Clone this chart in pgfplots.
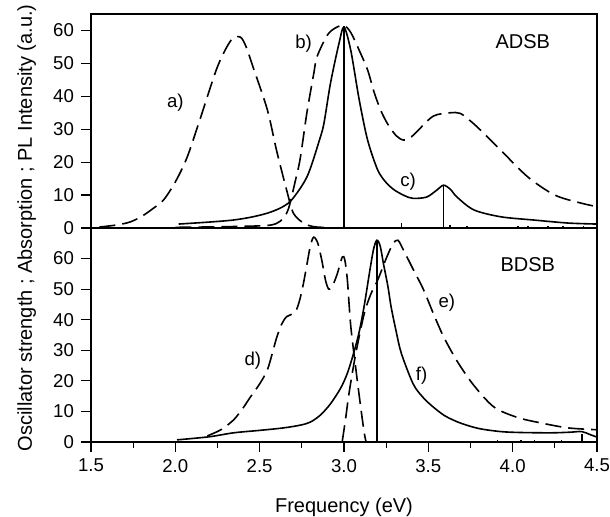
\documentclass[border=0pt]{standalone}
\usepackage{fontspec}
\setmainfont{Liberation Sans}
\usepackage{pgfplots}
\pgfplotsset{compat=1.18}

\pgfplotsset{
  panel/.style={
    scale only axis,
    width=253pt, height=107pt,
    xmin=1.5, xmax=4.5, ymin=0,
    ytick={0,10,...,60},
    ytick pos=left, xtick pos=bottom,
    tick align=outside,
    major tick length=5pt, minor tick length=3pt,
    minor x tick num=1,
    axis line style={line width=0.6pt},
    tick style={line width=0.6pt, black},
    /pgf/number format/assume math mode=true,
    font=\fontsize{10}{12}\selectfont,
    every tick label/.append style={font=\fontsize{9.3}{11}\selectfont},
    clip=true,
  },
  dsh/.style={black, line width=0.8pt, dash pattern=on 8pt off 3.5pt, smooth, tension=0.5},
  sol/.style={black, line width=0.8pt, smooth, tension=0.5},
  stk/.style={black, line width=0.8pt, ycomb},
}
\tikzset{lbl/.style={font=\fontsize{9.3}{11}\selectfont}}

\begin{document}
\begin{tikzpicture}
% bottom panel (BDSB)
\begin{axis}[panel,
  name=bot,
  ymax=70,
  xtick={1.5,2.0,...,4.5},
  xticklabels={1.5,2.0,2.5,3.0,3.5,4.0,4.5},
  xlabel={Frequency (eV)},
  ylabel={Oscillator strength ; Absorption ; PL Intensity (a.u.)},
  ylabel style={at={(axis description cs:-0.127,1)}, anchor=center},
  xlabel style={yshift=-6pt},
]
% d) absorption
\addplot[dsh] coordinates {
  (2.19,2) (2.27,4) (2.345,7.2) (2.40,11) (2.445,14.7) (2.50,19) (2.545,23.5)
  (2.575,29) (2.60,34) (2.63,38.5) (2.66,41) (2.70,42) (2.72,43.5) (2.74,47)
  (2.76,52) (2.78,58) (2.80,64) (2.82,67) (2.845,65) (2.87,59) (2.89,53)
  (2.91,50) (2.935,51.5) (2.96,55) (2.99,60.5) (3.005,59.5) (3.02,53)
  (3.04,38) (3.07,24) (3.10,11) (3.12,3) (3.13,0.3)
};
% e) PL
\addplot[dsh] coordinates {
  (2.99,0.3) (3.01,7.8) (3.03,16) (3.07,29) (3.12,42) (3.16,48.5) (3.20,53)
  (3.25,60) (3.29,64.8) (3.32,66) (3.355,62.5) (3.41,56.5) (3.47,50) (3.53,42)
  (3.59,34.5) (3.67,26.5) (3.77,18.5) (3.89,11.4) (4.03,8) (4.17,6.2) (4.33,4.6)
  (4.5,4)
};
% f) calculated spectrum
\addplot[sol] coordinates {
  (2.01,0.7) (2.2,1.7) (2.345,3) (2.5,3.8) (2.64,4.6) (2.74,5.5) (2.80,6.5)
  (2.86,8.8) (2.92,12.5) (2.98,17.6) (3.02,22.5) (3.06,29.6) (3.09,36)
  (3.12,44.6) (3.15,55) (3.175,63) (3.195,66) (3.215,64) (3.235,58) (3.26,51)
  (3.28,44) (3.31,36) (3.34,29) (3.41,19) (3.47,14.5) (3.53,11.4) (3.60,8.5)
  (3.69,6.2) (3.80,4.4) (3.93,3.4) (4.05,3.1) (4.23,3) (4.34,3.2) (4.41,3.4)
  (4.46,2.4) (4.5,1.6)
};
% oscillator strengths
\addplot[stk] coordinates {
  (3.195,66) (3.91,0.5) (4.05,0.5) (4.13,0.5) (4.29,0.5) (4.41,2.5)
};
\node[lbl] at (axis cs:2.46,26.7) {d)};
\node[lbl] at (axis cs:3.61,45.6) {e)};
\node[lbl] at (axis cs:3.46,21.8) {f)};
\node[font=\fontsize{10}{12}\selectfont] at (axis cs:4.09,58) {BDSB};
\end{axis}

% top panel (ADSB)
\begin{axis}[panel,
  name=top,
  at={(bot.north west)}, anchor=south west,
  ymax=65,
  xtick=\empty,
]
% a) absorption
\addplot[dsh] coordinates {
  (1.55,0.3) (1.65,0.9) (1.73,1.8) (1.80,3.5) (1.87,6) (1.93,8.5) (2.0,14)
  (2.07,21.5) (2.15,33.6) (2.25,49) (2.33,57) (2.385,58) (2.42,55) (2.46,49)
  (2.545,36) (2.60,23.6) (2.66,11.5) (2.70,4.5) (2.76,1.5) (2.82,0.4) (2.92,0.1)
};
% b) PL
\addplot[dsh] coordinates {
  (2.0,0.2) (2.3,0.4) (2.55,0.8) (2.62,2) (2.66,4.5) (2.68,7.5) (2.71,14)
  (2.74,21) (2.78,35) (2.82,46.7) (2.84,52) (2.90,58.5) (2.95,60.8) (3.0,61.5)
  (3.04,59.4) (3.09,54) (3.14,48) (3.18,41) (3.22,35.5) (3.26,31.5) (3.31,28)
  (3.355,26.7) (3.40,27.7) (3.44,29.7) (3.53,34) (3.63,35) (3.69,34.8)
  (3.75,32.5) (3.81,29.7) (3.93,23.6) (4.09,15.5) (4.25,10) (4.41,7.5) (4.5,6.5)
};
% c) calculated spectrum
\addplot[sol] coordinates {
  (2.02,1.2) (2.2,1.8) (2.34,2.4) (2.45,3.3) (2.545,4.5) (2.62,6) (2.68,8)
  (2.74,12) (2.78,15.5) (2.81,19.5) (2.85,26) (2.88,31.5) (2.92,44) (2.97,56)
  (3.0,61) (3.04,54) (3.09,39) (3.14,26.7) (3.20,17.6) (3.25,13.8) (3.30,11.5)
  (3.36,9.8) (3.41,9) (3.49,9.4) (3.55,11.5) (3.59,13) (3.63,11.8) (3.67,9.4)
  (3.77,5.5) (3.93,3.4) (4.13,2.4) (4.33,1.5) (4.5,1.2)
};
% oscillator strengths
\addplot[stk] coordinates {
  (3.0,61.5) (3.34,1.5) (3.59,13) (3.63,1) (3.73,0.6) (4.03,0.5) (4.09,0.5)
  (4.21,0.5) (4.30,0.5) (4.42,0.5)
};
\node[lbl] at (axis cs:2.0,38) {a)};
\node[lbl] at (axis cs:2.76,56) {b)};
\node[lbl] at (axis cs:3.38,14) {c)};
\node[font=\fontsize{10}{12}\selectfont] at (axis cs:4.06,56.5) {ADSB};
\end{axis}

% page margins as in the reference
\pgfresetboundingbox
\path[use as bounding box] ([shift={(-45.5pt,-37.5pt)}]bot.south west)
  rectangle ([shift={(6.5pt,7pt)}]top.north east);
\end{tikzpicture}
\end{document}
